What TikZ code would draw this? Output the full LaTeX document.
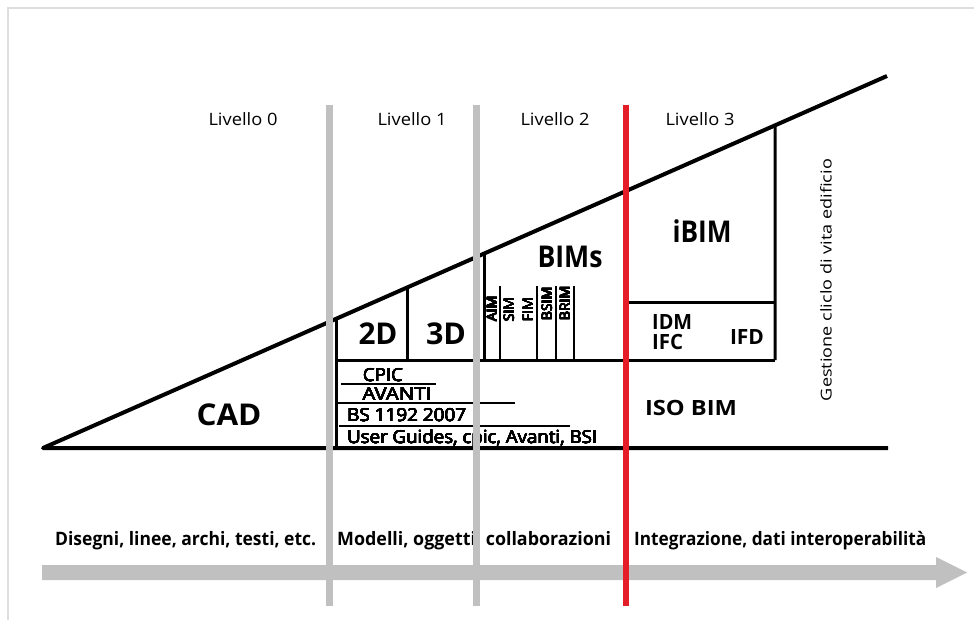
\documentclass[tikz,border=0pt]{standalone}
\usepackage{fontspec}
\setmainfont{Open Sans}
\usepackage{graphicx}
\usepackage[copies]{contour}
\contourlength{0.2pt}
\contournumber{16}
\usetikzlibrary{calc}
\newcommand\fw[2]{\resizebox{#1}{\height}{#2}}
\newcommand\semi[1]{\contour{black}{#1}}
\definecolor{bargrey}{RGB}{192,192,192}
\definecolor{framegrey}{RGB}{222,222,222}
\definecolor{lvlred}{RGB}{228,30,38}
\begin{document}
\begin{tikzpicture}[x=1pt,y=-1pt,
  frameline/.style={draw=framegrey, line width=1.5pt},
  outline/.style={line width=4pt, line join=round},
  innerline/.style={line width=3pt},
  thinline/.style={line width=1.6pt},
  lvlbar/.style={draw=bargrey, line width=7pt},
  redbar/.style={draw=lvlred, line width=6.5pt},
  lbl/.style={inner sep=0pt, anchor=base},
  lblw/.style={inner sep=0pt, anchor=base west},
  big/.style={font=\bfseries\fontsize{30}{30}\selectfont},
  mid/.style={font=\bfseries\fontsize{21}{21}\selectfont},
  small/.style={font=\fontsize{18}{18}\selectfont},
  levelt/.style={font=\fontsize{17}{17}\selectfont},
  vert/.style={inner sep=0pt, anchor=west, rotate=90, font=\fontsize{14}{14}\selectfont},
  caption/.style={font=\bfseries\fontsize{18.5}{18.5}\selectfont}]
\useasboundingbox (0,0) rectangle (974,620);
% frame
\draw[frameline] (8,620) -- (8,8) -- (974,8);
% main triangle
\coordinate (A) at (43,448);
\coordinate (B) at (887,76);
\coordinate (E) at (888,448);
\draw[outline] (B) -- (A) -- (E);
\coordinate (h1) at ($(A)!{293/844}!(B)$);
\coordinate (h2) at ($(A)!{365/844}!(B)$);
\coordinate (h3) at ($(A)!{441/844}!(B)$);
\coordinate (h4) at ($(A)!{732/844}!(B)$);
\coordinate (m1) at (336,360);
\coordinate (m2) at (775,360);
\coordinate (r1) at (625,302);
\draw[innerline] (h1) -- (h1 |- A);
\draw[innerline] (m1) -- (m2);
\draw[innerline] (h2) -- (h2 |- m1);
\draw[innerline] (h3) -- (h3 |- m1);
\draw[innerline] (h4) -- (m2);
\draw[innerline] (r1) -- (r1 -| m2);
% BIM sub-columns
\foreach \x in {500,537,556,574} \draw[thinline] (\x,286) -- (\x,360);
% standards lines
\coordinate (s1a) at (341,384); \coordinate (s1b) at (436,384);
\coordinate (s2a) at (336,403); \coordinate (s2b) at (515,403);
\coordinate (s3a) at (339,426); \coordinate (s3b) at (570,426);
\draw[thinline] (s1a) -- (s1b);
\draw[thinline] (s2a) -- (s2b);
\draw[thinline] (s3a) -- (s3b);
% level titles
\node[lbl, levelt] (l0) at (243,126) {\fw{69pt}{Livello 0}};
\node[lbl, levelt] (l1) at (412,126) {\fw{69pt}{Livello 1}};
\node[lbl, levelt] (l2) at (555,126) {\fw{69pt}{Livello 2}};
\node[lbl, levelt] (l3) at (700,126) {\fw{69pt}{Livello 3}};
% big labels
\node[lbl, big] (cad) at (229,425) {\fw{65pt}{CAD}};
\node[lbl, big] (d2) at (378,344) {\fw{39pt}{2D}};
\node[lbl, big] (d3) at (446,344) {\fw{40pt}{3D}};
\node[lbl, big] (bims) at (570,268) {\fw{65pt}{BIMs}};
\node[lbl, big] (ibim) at (702,243) {\fw{59pt}{iBIM}};
\node[lblw, mid] (idm) at (652,329.5) {\fw{40pt}{IDM}};
\node[lblw, mid] (ifc) at (652,349.5) {\fw{31pt}{IFC}};
\node[lbl, mid] (ifd) at (747,344.5) {\fw{34pt}{IFD}};
\node[lbl, mid] (iso) at (691,415) {\fw{92pt}{ISO BIM}};
% vertical BIM labels
\node[vert] (aim) at (492,322) {\semi{AIM}};
\node[vert] (sim) at (509,322) {\semi{SIM}};
\node[vert] (fim) at (528,322) {\semi{FIM}};
\node[vert] (bsim) at (547,321) {\semi{BSIM}};
\node[vert] (brim) at (565,321) {\semi{BRIM}};
% standards
\node[lbl, small] (cpic) at (383,381.5) {\fw{40pt}{\semi{CPIC}}};
\node[lbl, small] (avanti) at (397,400.5) {\fw{69pt}{\semi{AVANTI}}};
\node[lblw, small] (bs) at (347,421.5) {\fw{119pt}{\semi{BS 1192 2007}}};
\node[lblw, small] (ug) at (347,443.5) {\fw{250pt}{\semi{User Guides, cpic, Avanti, BSI}}};
% lifecycle
\node[inner sep=0pt, rotate=90, font=\fontsize{15}{15}\selectfont] (life) at (826,280) {\fw{242pt}{Gestione cliclo di vita edificio}};
% captions
\node[lblw, caption] (c1) at (55,545) {\fw{261pt}{Disegni, linee, archi, testi, etc.}};
\node[lblw, caption] (c2) at (337,545) {\fw{274pt}{Modelli, oggetti, collaborazioni}};
\node[lblw, caption] (c3) at (634,545) {\fw{292pt}{Integrazione, dati interoperabilità}};
% timeline arrow
\fill[bargrey] (42,565) -- (936,565) -- (936,557) -- (967,572.5) -- (936,588) -- (936,580) -- (42,580) -- cycle;
% level separators
\coordinate (g1t) at (329.5,105); \coordinate (g1b) at (329.5,606);
\coordinate (g2t) at (476,105); \coordinate (g2b) at (476,606);
\coordinate (rt) at (626,105); \coordinate (rb) at (626,606);
\draw[lvlbar] (g1t) -- (g1b);
\draw[lvlbar] (g2t) -- (g2b);
\draw[redbar] (rt) -- (rb);
\end{tikzpicture}
\end{document}
